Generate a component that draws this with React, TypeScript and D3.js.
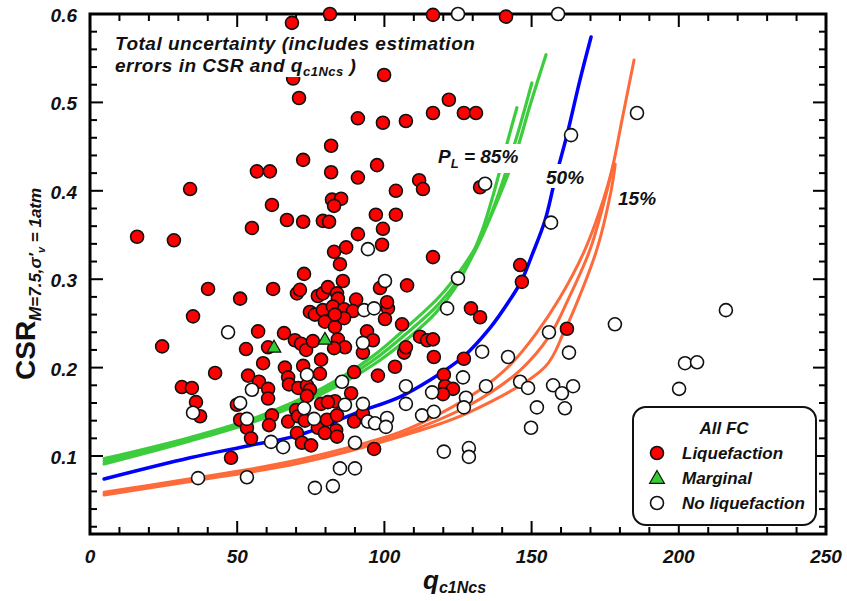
import React from 'react';
import * as d3 from 'd3';

type Pt = [number, number];

const liquefaction: Pt[] = [
  [81.5,0.600],[116.5,0.599],[141.3,0.597],[68.6,0.590],[69.0,0.527],[99.9,0.531],[71.0,0.505],[91.0,0.482],[99.5,0.477],[107.3,0.479],
  [116.5,0.488],[121.9,0.503],[127.0,0.488],[131.1,0.488],[81.9,0.451],[72.4,0.435],[56.7,0.422],[61.1,0.422],[81.9,0.421],[91.0,0.415],
  [97.5,0.429],[111.8,0.412],[113.1,0.402],[103.9,0.400],[132.5,0.404],[34.0,0.402],[82.2,0.390],[85.3,0.391],[82.9,0.383],[61.8,0.384],
  [66.9,0.367],[72.4,0.365],[79.1,0.366],[81.2,0.365],[97.1,0.373],[103.9,0.373],[55.0,0.358],[91.0,0.351],[99.5,0.357],[16.0,0.348],
  [28.5,0.344],[82.9,0.331],[87.0,0.336],[99.2,0.339],[84.9,0.317],[116.5,0.325],[72.7,0.306],[85.9,0.298],[98.5,0.290],[107.7,0.293],
  [40.1,0.289],[51.0,0.278],[62.2,0.289],[70.3,0.284],[71.3,0.288],[77.4,0.281],[79.1,0.284],[80.8,0.291],[83.9,0.284],[84.2,0.278],
  [90.4,0.277],[74.7,0.263],[76.4,0.260],[79.1,0.265],[82.5,0.269],[86.3,0.266],[89.3,0.264],[101.2,0.267],[100.9,0.274],[35.0,0.258],
  [79.8,0.252],[83.2,0.246],[86.3,0.256],[100.2,0.255],[106.0,0.249],[57.1,0.241],[65.9,0.239],[69.6,0.231],[71.7,0.227],[73.4,0.220],
  [75.7,0.230],[84.2,0.232],[86.6,0.223],[82.9,0.222],[94.1,0.241],[92.7,0.217],[96.1,0.231],[106.7,0.217],[107.3,0.223],[112.1,0.235],
  [114.5,0.231],[116.5,0.232],[129.4,0.267],[132.5,0.257],[146.1,0.316],[146.7,0.297],[116.8,0.212],[127.0,0.210],[162.0,0.244],[24.5,0.224],
  [53.0,0.221],[60.5,0.223],[58.8,0.205],[66.2,0.200],[42.5,0.194],[53.7,0.191],[67.3,0.189],[67.6,0.181],[78.5,0.209],[72.4,0.202],
  [78.1,0.193],[89.7,0.195],[97.8,0.191],[103.6,0.201],[120.2,0.192],[120.6,0.179],[123.3,0.176],[119.9,0.170],[57.4,0.184],[70.7,0.177],
  [73.7,0.180],[74.7,0.175],[31.2,0.178],[34.6,0.177],[36.0,0.161],[60.5,0.176],[60.5,0.165],[73.7,0.168],[88.7,0.171],[83.2,0.162],
  [78.5,0.159],[80.8,0.161],[37.4,0.145],[51.0,0.141],[49.9,0.158],[53.3,0.132],[54.7,0.120],[61.8,0.146],[60.8,0.135],[67.3,0.139],
  [70.0,0.152],[70.7,0.145],[73.0,0.140],[77.4,0.132],[80.5,0.141],[83.9,0.146],[83.6,0.129],[79.8,0.126],[89.7,0.139],[92.7,0.148],
  [70.3,0.126],[72.0,0.115],[75.1,0.112],[96.5,0.108],[47.9,0.098],[83.9,0.122],[83.2,0.260]
];

const noLiquefaction: Pt[] = [
  [125.0,0.600],[159.0,0.600],[134.2,0.408],[163.4,0.463],[185.8,0.488],[94.4,0.334],[100.2,0.298],[125.0,0.301],[121.3,0.267],[156.6,0.364],
  [46.9,0.240],[93.1,0.265],[96.5,0.267],[92.7,0.228],[133.2,0.218],[142.0,0.212],[155.9,0.240],[162.7,0.217],[73.7,0.192],[85.6,0.184],
  [107.3,0.179],[107.3,0.159],[51.0,0.160],[35.0,0.149],[53.3,0.142],[55.0,0.175],[36.7,0.075],[53.3,0.076],[72.7,0.154],[76.1,0.142],
  [86.6,0.158],[92.7,0.159],[94.4,0.139],[96.8,0.137],[100.9,0.143],[100.5,0.133],[61.5,0.116],[65.6,0.110],[90.0,0.115],[84.9,0.086],
  [90.0,0.086],[76.4,0.064],[82.5,0.066],[112.8,0.146],[116.8,0.150],[116.2,0.172],[126.7,0.189],[127.7,0.166],[127.0,0.155],[134.5,0.179],
  [120.2,0.105],[128.7,0.109],[128.7,0.099],[146.1,0.184],[148.8,0.177],[151.8,0.155],[149.8,0.132],[157.3,0.180],[160.3,0.171],[164.1,0.179],
  [161.3,0.154],[200.1,0.176],[178.3,0.249],[216.0,0.265],[202.1,0.205],[206.2,0.206]
];

const marginal: Pt[] = [[62.5,0.222],[79.8,0.231]];

const pl85a: Pt[] = [[4.8,0.091],[34.0,0.117],[56.7,0.140],[79.1,0.171],[96.1,0.203],[108.7,0.235],[117.2,0.261],[124.0,0.290],[129.1,0.322],[133.2,0.355],[136.5,0.390],[139.3,0.424],[142.0,0.458],[145.0,0.494]];
const pl85b: Pt[] = [[4.8,0.094],[34.0,0.119],[56.7,0.142],[79.1,0.174],[96.1,0.208],[108.7,0.242],[118.2,0.271],[125.7,0.302],[130.8,0.332],[134.9,0.362],[138.6,0.395],[142.0,0.429],[146.1,0.474],[150.1,0.522]];
const pl85c: Pt[] = [[4.8,0.097],[34.0,0.121],[56.7,0.144],[79.1,0.177],[96.1,0.213],[108.7,0.249],[118.9,0.281],[126.7,0.314],[132.5,0.345],[136.9,0.377],[141.0,0.410],[145.0,0.446],[149.5,0.497],[154.9,0.554]];
const pl50: Pt[] = [[4.8,0.074],[34.0,0.098],[54.3,0.112],[71.3,0.124],[90.7,0.149],[105.3,0.167],[115.5,0.186],[126.7,0.212],[135.9,0.245],[142.7,0.277],[146.7,0.299],[150.1,0.327],[154.6,0.367],[157.9,0.412],[162.0,0.463],[166.4,0.525],[170.2,0.574]];
const pl15a: Pt[] = [[4.8,0.059],[20.4,0.067],[37.4,0.076],[54.3,0.085],[71.3,0.096],[88.3,0.110],[105.3,0.127],[118.9,0.148],[132.5,0.175],[142.7,0.203],[151.2,0.237],[159.6,0.279],[167.8,0.331],[173.2,0.378],[177.3,0.424],[180.7,0.480],[184.8,0.548]];
const pl15b: Pt[] = [[4.8,0.057],[37.4,0.074],[71.3,0.093],[105.3,0.124],[129.1,0.158],[146.1,0.197],[156.3,0.237],[162.4,0.277],[169.8,0.333],[175.6,0.400],[177.8,0.430]];
const pl15c: Pt[] = [[4.8,0.056],[37.4,0.073],[71.3,0.092],[105.3,0.122],[129.1,0.150],[154.6,0.201],[160.7,0.238],[164.1,0.263],[172.2,0.334],[177.0,0.400],[178.4,0.430]];

const xMajor = [0, 50, 100, 150, 200, 250];
const xTickLabels = ['0', '50', '100', '150', '200', '250'];
const yMajor = [0.1, 0.2, 0.3, 0.4, 0.5, 0.6];
const yTickLabels = ['0.1', '0.2', '0.3', '0.4', '0.5', '0.6'];

const FONT = '"Liberation Sans", Arial, Helvetica, sans-serif';

export default function App() {
  const x = d3.scaleLinear().domain([0, 250]).range([90, 826]);
  const y = d3.scaleLinear().domain([0.0118, 0.6]).range([534, 14]);
  const line = d3.line<Pt>().x(d => x(d[0])).y(d => y(d[1])).curve(d3.curveCatmullRom.alpha(0.5));
  const [x0, x1] = x.range();
  const [yb, yt] = y.range();

  const xMinor = d3.range(10, 250, 10).filter(v => v % 50 !== 0);
  const yMinor = d3.range(1, 30).filter(i => i % 5 !== 0).map(i => i * 0.02).filter(v => v > 0.0118);
  const tri = d3.symbol().type(d3.symbolTriangle).size(80)();
  const triLegend = d3.symbol().type(d3.symbolTriangle).size(95)();

  const green = '#3dcc3d';
  const blue = '#0000ff';
  const orange = '#ff6a3a';
  const txt = { fontFamily: FONT, fontWeight: 'bold' as const, fontStyle: 'italic' as const, fill: '#111' };

  return (
    <svg width={847} height={601} style={{ position: 'absolute', left: 0, top: 0, background: '#fff' }}>
      <rect x={0} y={0} width={847} height={601} fill="#fff" />
      <g stroke="#000" strokeWidth={2}>
        {xMajor.map(v => (
          <g key={'xm' + v}>
            <line x1={x(v)} x2={x(v)} y1={yb} y2={yb - 13} />
            <line x1={x(v)} x2={x(v)} y1={yt} y2={yt + 13} />
          </g>
        ))}
        {xMinor.map(v => (
          <g key={'xn' + v}>
            <line x1={x(v)} x2={x(v)} y1={yb} y2={yb - 7} />
            <line x1={x(v)} x2={x(v)} y1={yt} y2={yt + 7} />
          </g>
        ))}
        {yMajor.map(v => (
          <g key={'ym' + v}>
            <line x1={x0} x2={x0 + 13} y1={y(v)} y2={y(v)} />
            <line x1={x1} x2={x1 - 13} y1={y(v)} y2={y(v)} />
          </g>
        ))}
        {yMinor.map(v => (
          <g key={'yn' + v}>
            <line x1={x0} x2={x0 + 7} y1={y(v)} y2={y(v)} />
            <line x1={x1} x2={x1 - 7} y1={y(v)} y2={y(v)} />
          </g>
        ))}
      </g>
      <rect x={x0} y={yt} width={x1 - x0} height={yb - yt} fill="none" stroke="#000" strokeWidth={3} />

      {xMajor.map((v, i) => (
        <text key={'xl' + v} x={x(v)} y={563} textAnchor="middle" fontSize={19} {...txt}>{xTickLabels[i]}</text>
      ))}
      {yMajor.map((v, i) => (
        <text key={'yl' + v} x={77} y={y(v) + 8} textAnchor="end" fontSize={19} {...txt}>{yTickLabels[i]}</text>
      ))}

      <text x={423} y={589} fontSize={26} {...txt}>q<tspan dy={4} fontSize={16}>c1Ncs</tspan></text>
      <text transform="translate(35,380) rotate(-90)" fontFamily={FONT} fontWeight="bold" fontSize={28} fill="#111">
        CSR<tspan dy={6} fontSize={17} fontStyle="italic">M=7.5,σ′</tspan>
        <tspan dy={4} fontSize={11} fontStyle="italic">v</tspan>
        <tspan dy={-4} fontSize={17} fontStyle="italic"> = 1atm</tspan>
      </text>

      <g fill="none" strokeLinecap="round">
        <path d={line(pl15a) || ''} stroke={orange} strokeWidth={3} />
        <path d={line(pl15b) || ''} stroke={orange} strokeWidth={3} />
        <path d={line(pl15c) || ''} stroke={orange} strokeWidth={3} />
        <path d={line(pl50) || ''} stroke={blue} strokeWidth={3.5} />
        <path d={line(pl85a) || ''} stroke={green} strokeWidth={3.2} />
        <path d={line(pl85b) || ''} stroke={green} strokeWidth={3.2} />
        <path d={line(pl85c) || ''} stroke={green} strokeWidth={3.2} />
      </g>

      <rect x={434} y={144} width={96} height={29} fill="#fff" />
      <text x={438} y={163} fontSize={19} {...txt}>P<tspan dy={5} fontSize={13}>L</tspan><tspan dy={-5}> = 85%</tspan></text>
      <rect x={543} y={164} width={46} height={24} fill="#fff" />
      <text x={546} y={184} fontSize={19} {...txt}>50%</text>
      <text x={618} y={205} fontSize={19} {...txt}>15%</text>

      <g stroke="#111" strokeWidth={1.6}>
        {liquefaction.map((d, i) => (
          <circle key={'r' + i} cx={x(d[0])} cy={y(d[1])} r={6.5} fill="#ff0000" />
        ))}
        {noLiquefaction.map((d, i) => (
          <circle key={'w' + i} cx={x(d[0])} cy={y(d[1])} r={6.5} fill="#fff" />
        ))}
        {marginal.map((d, i) => (
          <path key={'m' + i} d={tri || ''} transform={`translate(${x(d[0])},${y(d[1])})`} fill="#33cc33" strokeWidth={1.2} />
        ))}
      </g>

      <rect x={110} y={32} width={376} height={24} fill="#fff" />
      <rect x={110} y={56} width={262} height={21} fill="#fff" />
      <text x={115} y={50} fontSize={19} letterSpacing={0.5} {...txt}>Total uncertainty (includes estimation</text>
      <text x={115} y={72} fontSize={19} letterSpacing={0.5} {...txt}>errors in CSR and q<tspan dy={4} fontSize={13}>c1Ncs</tspan><tspan dy={-4}> )</tspan></text>

      <rect x={633} y={407} width={183} height={118} rx={13} ry={13} fill="#fff" stroke="#111" strokeWidth={2} />
      <text x={724} y={434} textAnchor="middle" fontSize={17} {...txt}>All FC</text>
      <circle cx={657} cy={453} r={6.5} fill="#ff0000" stroke="#111" strokeWidth={1.6} />
      <text x={682} y={459} fontSize={17} {...txt}>Liquefaction</text>
      <path d={triLegend || ''} transform="translate(657,479)" fill="#33cc33" stroke="#111" strokeWidth={1.2} />
      <text x={682} y={484} fontSize={17} {...txt}>Marginal</text>
      <circle cx={657} cy={503} r={6.5} fill="#fff" stroke="#111" strokeWidth={1.6} />
      <text x={682} y={509} fontSize={17} {...txt}>No liquefaction</text>
    </svg>
  );
}
